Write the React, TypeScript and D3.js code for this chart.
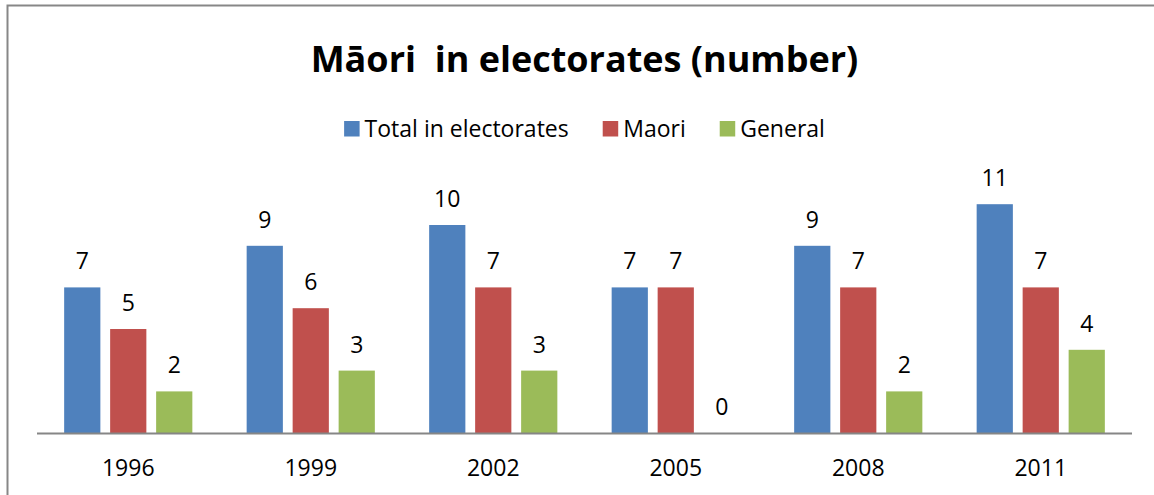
import React, { useEffect, useRef } from "react";
import * as d3 from "d3";

const years = ["1996", "1999", "2002", "2005", "2008", "2011"];
const seriesNames = ["Total in electorates", "Maori", "General"];
const totalValues = [7, 9, 10, 7, 9, 11];
const maoriValues = [5, 6, 7, 7, 7, 7];
const generalValues = [2, 3, 3, 0, 2, 4];
const seriesColors = ["#4F81BD", "#C0504D", "#9BBB59"];
const titleText = "Māori  in electorates (number)";

const W = 1154;
const H = 495;
const FONT = "'Open Sans', 'Noto Sans', sans-serif";

export default function App() {
  const ref = useRef<SVGSVGElement | null>(null);

  useEffect(() => {
    const svg = d3.select(ref.current);
    svg.selectAll("*").remove();

    const seriesValues = [totalValues, maoriValues, generalValues];
    const plotLeft = 37;
    const plotRight = 1132;
    const plotBottom = 433;

    // outer frame (extends beyond the visible window)
    svg.append("rect")
      .attr("x", 7.5).attr("y", 5.5)
      .attr("width", 1160).attr("height", 500)
      .attr("fill", "white")
      .attr("stroke", "#878787").attr("stroke-width", 2);

    // title
    svg.append("text")
      .attr("x", (plotLeft + plotRight) / 2).attr("y", 72)
      .attr("text-anchor", "middle")
      .attr("font-family", FONT).attr("font-weight", "bold")
      .attr("font-size", 36).attr("fill", "#000")
      .style("white-space", "pre")
      .text(titleText);

    const x = d3.scaleBand<string>().domain(years).range([plotLeft, plotRight]).padding(0);
    const y = d3.scaleLinear().domain([0, 14]).range([plotBottom, plotBottom - 14 * 20.8]);

    const bw = x.bandwidth();
    const barW = bw / (3 + 2 * 0.27 + 1.5);
    const gap = barW * 0.27;

    const g = svg.append("g");
    seriesValues.forEach((vals, si) => {
      years.forEach((yr, i) => {
        const cx = (x(yr) as number) + bw / 2 + (si - 1) * (barW + gap);
        const v = vals[i];
        if (v > 0) {
          g.append("rect")
            .attr("x", cx - barW / 2).attr("y", y(v))
            .attr("width", barW).attr("height", y(0) - y(v))
            .attr("fill", seriesColors[si]);
        }
        g.append("text")
          .attr("x", cx).attr("y", y(v) - 18)
          .attr("text-anchor", "middle")
          .attr("font-family", FONT).attr("font-size", 23)
          .attr("fill", "#000")
          .text(String(v));
      });
    });

    // axis line
    svg.append("line")
      .attr("x1", plotLeft).attr("x2", plotRight)
      .attr("y1", plotBottom + 0.5).attr("y2", plotBottom + 0.5)
      .attr("stroke", "#868686").attr("stroke-width", 2);

    // category labels
    years.forEach((yr) => {
      svg.append("text")
        .attr("x", (x(yr) as number) + bw / 2).attr("y", 476)
        .attr("text-anchor", "middle")
        .attr("font-family", FONT).attr("font-size", 23)
        .attr("fill", "#000")
        .text(yr);
    });

    // legend
    const lg = svg.append("g");
    const sq = 15.5;
    const items = seriesNames.map((name, i) => {
      const it = lg.append("g");
      it.append("rect").attr("x", 0).attr("y", 121).attr("width", sq).attr("height", sq)
        .attr("fill", seriesColors[i]);
      const t = it.append("text").attr("x", sq + 5).attr("y", 137)
        .attr("font-family", FONT).attr("font-size", 23).attr("fill", "#000")
        .text(name);
      const tw = (t.node() as SVGTextElement).getComputedTextLength();
      return { it, w: sq + 5 + tw };
    });
    const itemGap = 34;
    const totalW = d3.sum(items, (d) => d.w) + itemGap * (items.length - 1);
    let cx = (plotLeft + plotRight) / 2 - totalW / 2;
    items.forEach((d) => {
      d.it.attr("transform", `translate(${cx},0)`);
      cx += d.w + itemGap;
    });
  }, []);

  return (
    <svg
      ref={ref}
      width={W}
      height={H}
      style={{ position: "absolute", left: 0, top: 0, background: "white" }}
    />
  );
}
